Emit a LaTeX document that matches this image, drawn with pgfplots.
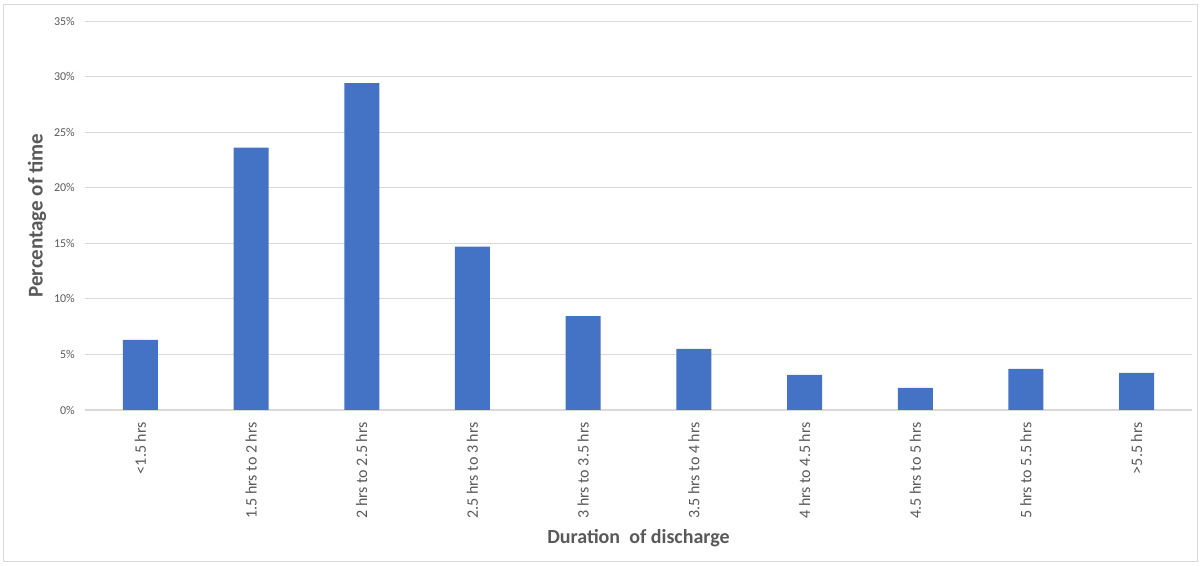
\documentclass[border=0pt]{standalone}
\usepackage{pgfplots}
\pgfplotsset{compat=1.18}
\usepackage{fontspec}
\setmainfont{Carlito}
\definecolor{barblue}{HTML}{4472C4}
\definecolor{gridgray}{HTML}{D9D9D9}
\definecolor{txtgray}{HTML}{595959}
\begin{document}
\begin{tikzpicture}
\begin{axis}[
 name=ax,
 scale only axis, width=1107pt, height=389pt,
 ybar, bar width=35pt,
 xmin=-0.5, xmax=9.5, ymin=0, ymax=35,
 ytick={0,5,...,35},
 /pgf/number format/assume math mode=true,
 yticklabel={\pgfmathprintnumber{\tick}\%},
 xtick={0,...,9},
 xticklabels={{<1.5 hrs},{1.5 hrs to 2 hrs},{2 hrs to 2.5 hrs},{2.5 hrs to 3 hrs},{3 hrs to 3.5 hrs},{3.5 hrs to 4 hrs},{4 hrs to 4.5 hrs},{4.5 hrs to 5 hrs},{5 hrs to 5.5 hrs},{>5.5 hrs}},
 x tick label style={rotate=90, anchor=east, font=\fontsize{16}{18}\selectfont, text=txtgray, inner sep=0pt, xshift=-12pt},
 y tick label style={font=\fontsize{12}{14}\selectfont, text=txtgray, inner sep=0pt, xshift=-10pt},
 major tick length=0pt,
 axis x line*=bottom, axis y line*=left,
 y axis line style={draw=none},
 x axis line style={draw=gridgray, line width=1pt, -},
 ymajorgrids, grid style={draw=gridgray, line width=0.8pt},
 ylabel={Percentage of time},
 xlabel={Duration\ \ of discharge},
 ylabel style={at={(rel axis cs:0,0.5)}, anchor=center, yshift=48pt, font=\bfseries\fontsize{21}{24}\selectfont, text=txtgray},
 xlabel style={at={(rel axis cs:0.5,0)}, anchor=center, yshift=-128pt, font=\bfseries\fontsize{20}{24}\selectfont, text=txtgray},
]
\addplot[fill=barblue, draw=none] coordinates {
(0,6.3) (1,23.6) (2,29.4) (3,14.7) (4,8.45) (5,5.5) (6,3.15) (7,1.98) (8,3.7) (9,3.33)};
\end{axis}
\draw[gridgray, line width=1pt] ([shift={(-81pt,-152pt)}]ax.south west) rectangle ([shift={(5pt,16pt)}]ax.north east);
\path ([shift={(-85pt,-156pt)}]ax.south west) rectangle ([shift={(11pt,21pt)}]ax.north east);
\end{tikzpicture}
\end{document}
